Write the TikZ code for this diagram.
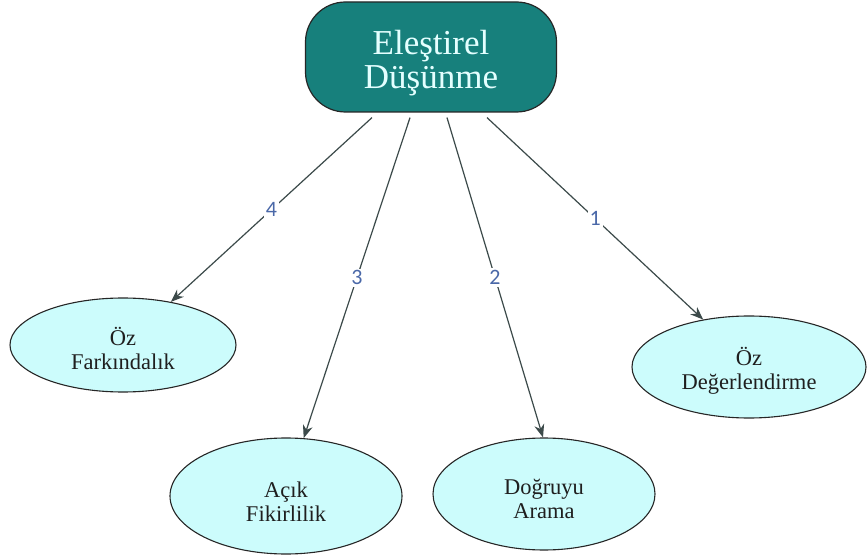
\documentclass[tikz,border=0pt]{standalone}
\usepackage{fontspec}
\setmainfont{Liberation Serif}
\newfontfamily\labelfont{Carlito}
\usetikzlibrary{shapes.geometric,arrows.meta}
\definecolor{teal1}{HTML}{17807C}
\definecolor{toptext}{HTML}{E4FFFF}
\definecolor{cyanfill}{HTML}{CCFCFC}
\definecolor{edgecol}{HTML}{3C4A4A}
\definecolor{numcol}{HTML}{4A68A8}
\newcommand{\tstrut}{\rule{0pt}{26pt}}
\tikzset{
  topbox/.style={draw=black!85, line width=1.2pt, fill=teal1, rounded corners=40pt,
    minimum width=251pt, minimum height=110pt, inner sep=0pt, text=toptext,
    align=center, font=\fontsize{35}{34}\selectfont},
  leaf/.style={draw=black!85, line width=1.1pt, fill=cyanfill, ellipse, inner sep=0pt,
    align=center, text=black!88, font=\fontsize{22.5}{24}\selectfont},
  link/.style={draw=edgecol, line width=1.2pt, -{Stealth[length=13pt,width=10pt]}},
  num/.style={fill=white, text=numcol, font=\labelfont\fontsize{22}{22}\selectfont, inner sep=2pt}
}
\begin{document}
\begin{tikzpicture}[x=1pt,y=-1pt]
\useasboundingbox[fill=white] (0,0) rectangle (868,556);
\node[topbox] (top) at (431,57) {\rule{0pt}{36pt}Eleştirel\\Düşünme};
\node[leaf, minimum width=226pt, minimum height=94pt] (a) at (123,345) {\tstrut Öz\\Farkındalık};
\node[leaf, minimum width=232pt, minimum height=116pt] (b) at (286,496) {\tstrut Açık\\Fikirlilik};
\node[leaf, minimum width=222pt, minimum height=112pt] (c) at (544,494) {\tstrut Doğruyu\\Arama};
\node[leaf, minimum width=234pt, minimum height=102pt] (d) at (749,367) {\tstrut Öz\\Değerlendirme};
\draw[link] ([xshift=-59pt,yshift=-5pt]top.south) -- node[num]{4} (a.42);
\draw[link] ([xshift=-21pt,yshift=-5pt]top.south) -- node[num]{3} (b.73);
\draw[link] ([xshift=16pt,yshift=-5pt]top.south) -- node[num]{2} (c.91);
\draw[link] ([xshift=56pt,yshift=-5pt]top.south) -- node[num]{1} (d.134);
\end{tikzpicture}
\end{document}
